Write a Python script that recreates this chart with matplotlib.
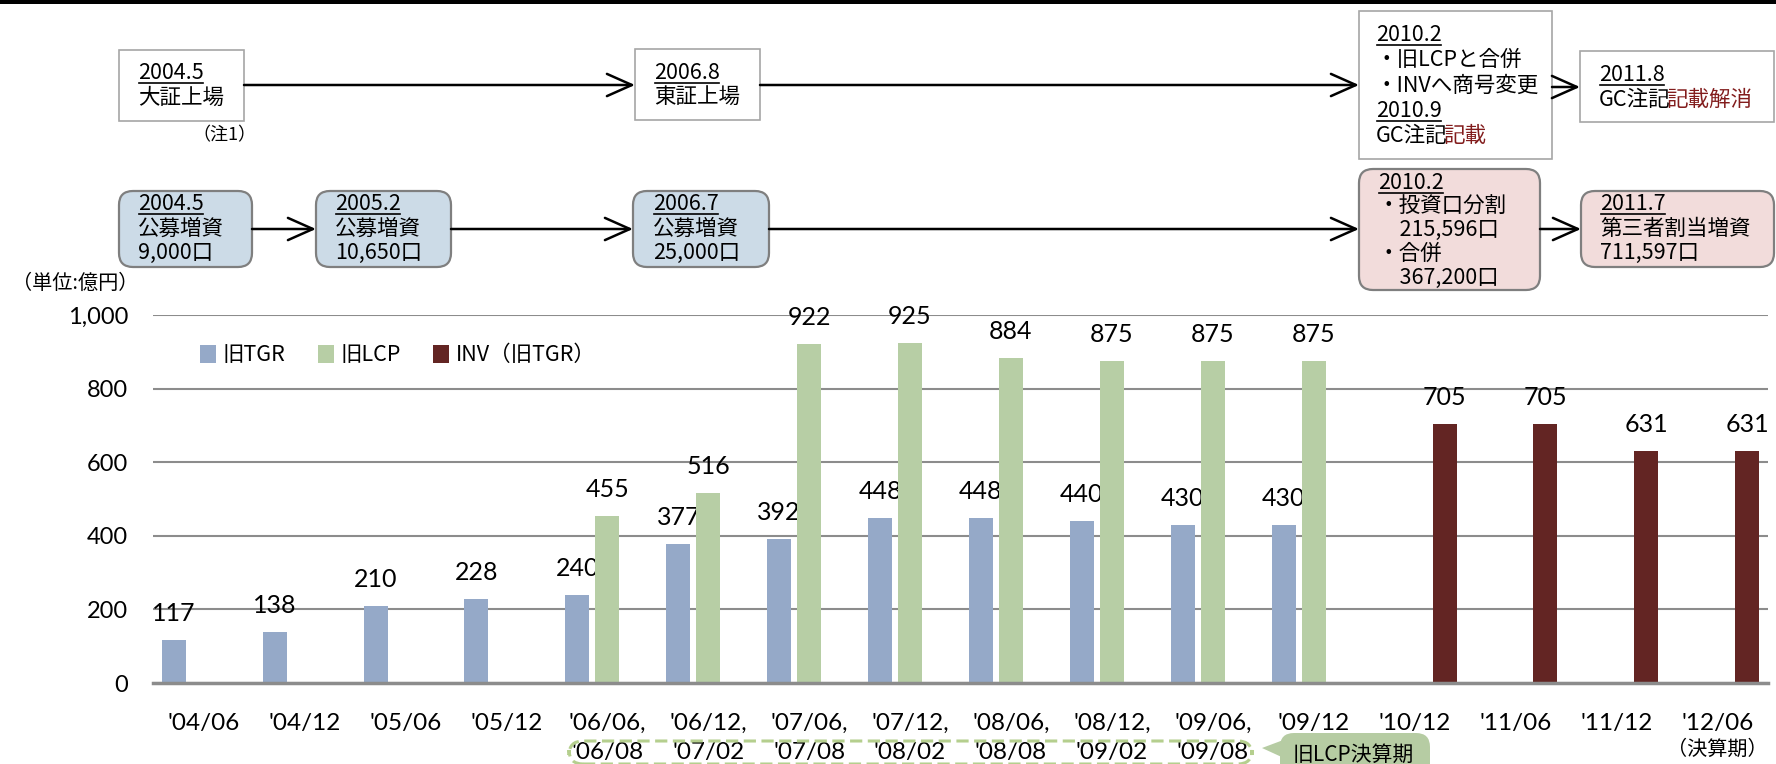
import matplotlib
matplotlib.use("Agg")
import matplotlib.pyplot as plt
import matplotlib.transforms as mtransforms
from matplotlib.patches import FancyBboxPatch, FancyArrowPatch, Polygon, Rectangle
from matplotlib.lines import Line2D
import numpy as np

W, H = 1776, 764
JP = ["Noto Sans CJK JP", "DejaVu Sans"]
NUM = ["Lato", "Noto Sans CJK JP", "DejaVu Sans"]

# data
periods = ["'04/06", "'04/12", "'05/06", "'05/12", "'06/06,", "'06/12,", "'07/06,", "'07/12,",
           "'08/06,", "'08/12,", "'09/06,", "'09/12", "'10/12", "'11/06", "'11/12", "'12/06"]
lcp_periods = ["", "", "", "", "'06/08", "'07/02", "'07/08", "'08/02",
               "'08/08", "'09/02", "'09/08", "", "", "", "", ""]
tgr = [117, 138, 210, 228, 240, 377, 392, 448, 448, 440, 430, 430, None, None, None, None]
lcp = [None, None, None, None, 455, 516, 922, 925, 884, 875, 875, 875, None, None, None, None]
inv = [None] * 12 + [705, 705, 631, 631]
series_names = ["旧TGR", "旧LCP", "INV（旧TGR）"]
series_colors = ["#95a9c8", "#b7cea5", "#632523"]
yticks = [0, 200, 400, 600, 800, 1000]

fig = plt.figure(figsize=(W / 100, H / 100), dpi=100)
T = mtransforms.IdentityTransform()


def ftext(x, y, s, **kw):
    kw.setdefault("fontsize", 15.5)
    kw.setdefault("family", JP)
    kw.setdefault("va", "center")
    return fig.text(x, H - y, s, transform=T, **kw)


def fbox(x0, y0, x1, y1, fc, ec, lw=1.2, rounded=False, **kw):
    style = "round,pad=0,rounding_size=14" if rounded else "square,pad=0"
    p = FancyBboxPatch((x0, H - y1), x1 - x0, y1 - y0, boxstyle=style,
                       transform=T, fc=fc, ec=ec, lw=lw, **kw)
    fig.add_artist(p)
    return p


def farrow(x0, x1, y):
    a = FancyArrowPatch((x0, H - y), (x1, H - y), transform=T,
                        arrowstyle="->,head_length=0.9,head_width=0.4",
                        mutation_scale=20, lw=1.8, color="black",
                        shrinkA=0, shrinkB=0)
    fig.add_artist(a)


# chart
ax = fig.add_axes([153.3 / W, 81 / H, (1767.7 - 153.3) / W, 368 / H])
x = np.arange(len(periods))
offsets = [-0.297, 0.0, 0.297]
handles = []
for vals, off, color, name in zip([tgr, lcp, inv], offsets, series_colors, series_names):
    xs = [xi + off for xi, v in zip(x, vals) if v is not None]
    hs = [v for v in vals if v is not None]
    b = ax.bar(xs, hs, width=0.238, color=color, label=name, zorder=3)
    handles.append(b)
    for xi, v in zip(xs, hs):
        ax.annotate(str(v), (xi, v), xytext=(0, 19), textcoords="offset points",
                    ha="center", va="center", fontsize=18, family=NUM)

ax.set_xlim(-0.5, len(periods) - 0.5)
ax.set_ylim(0, 1000)
ax.set_yticks(yticks)
ax.set_yticklabels([f"{v:,}" for v in yticks], fontsize=17, family=NUM)
ax.set_xticks(x)
ax.set_xticklabels([a + ("\n" + b if b else "") for a, b in zip(periods, lcp_periods)],
                   fontsize=17.5, family=NUM, linespacing=1.5)
# first few labels sit a little left of their slot in the original
for lbl, dx in zip(ax.get_xticklabels()[:4], [-20, -11, -10, -12]):
    lbl.set_transform(lbl.get_transform() + mtransforms.Affine2D().translate(dx, 0))
ax.tick_params(axis="y", length=0, pad=18)
ax.tick_params(axis="x", length=0, pad=21.5)
ax.yaxis.grid(True, color="#8c8c8c", lw=1.5, zorder=0)
ax.set_axisbelow(True)
for s in ["top", "right", "left"]:
    ax.spines[s].set_visible(False)
ax.spines["bottom"].set_color("#8c8c8c")
ax.spines["bottom"].set_linewidth(2.5)
ax.spines["bottom"].set_zorder(4)

ax.legend(handles=handles, ncol=3, loc="center left",
          bbox_to_anchor=(200 / W, 1 - 355 / H), bbox_transform=fig.transFigure,
          frameon=False, handlelength=0.75, handleheight=0.9, handletextpad=0.3,
          columnspacing=1.5, borderpad=0, borderaxespad=0,
          prop={"family": JP, "size": 15.5})

# top rule
fig.add_artist(Rectangle((0, H - 4), W, 4, transform=T, fc="black", ec="none"))

# units
ftext(12, 283, "（単位:億円）", fontsize=14.5)
ftext(1768, 749, "（決算期）", fontsize=14.5, ha="right")

# LCP fiscal period marker
fbox(569, 741, 1252, 764, "none", "#b5cf8e", lw=2.2, rounded=True,
     linestyle=(0, (4, 1.8)))
fig.add_artist(Polygon([(1262, H - 748), (1286, H - 739), (1286, H - 759)],
                       closed=True, transform=T, fc="#b6cca3", ec="none"))
fbox(1280, 733, 1430, 800, "#b6cca3", "none", lw=0, rounded=True)
ftext(1293, 755, "旧LCP決算期", fontsize=15)

# timeline boxes
fbox(119, 50, 244, 121, "white", "#a6a6a6")
fbox(635, 49, 760, 120, "white", "#a6a6a6")
fbox(1359, 11, 1552, 159, "white", "#a6a6a6")
fbox(1580, 51, 1774, 122, "white", "#a6a6a6")
blue, pink = "#ccdbe7", "#f2dcdb"
fbox(119, 191, 252, 267, blue, "#7f7f7f", lw=1.6, rounded=True)
fbox(316, 191, 451, 267, blue, "#7f7f7f", lw=1.6, rounded=True)
fbox(633, 191, 769, 267, blue, "#7f7f7f", lw=1.6, rounded=True)
fbox(1359, 169, 1540, 290, pink, "#7f7f7f", lw=1.6, rounded=True)
fbox(1581, 191, 1774, 267, pink, "#7f7f7f", lw=1.6, rounded=True)

farrow(244, 635, 85)
farrow(760, 1359, 85)
farrow(1552, 1580, 87)
farrow(252, 316, 229)
farrow(451, 633, 229)
farrow(769, 1359, 229)
farrow(1540, 1581, 229)

red = "#821c1c"
dates = []
dates.append(ftext(138, 73, "2004.5"))
ftext(138, 98, "大証上場")
ftext(192, 135, "（注1）", fontsize=13)
dates.append(ftext(654, 73, "2006.8"))
ftext(654, 98, "東証上場")
dates.append(ftext(1376, 35, "2010.2"))
ftext(1376, 60, "・旧LCPと合併")
ftext(1376, 86, "・INVへ商号変更")
dates.append(ftext(1376, 111, "2010.9"))
gc1 = ftext(1376, 136, "GC注記")
dates.append(ftext(1599, 75, "2011.8"))
gc2 = ftext(1599, 100, "GC注記")

dates.append(ftext(138, 204, "2004.5"))
ftext(138, 229, "公募増資")
ftext(138, 253, "9,000口")
dates.append(ftext(335, 204, "2005.2"))
ftext(335, 229, "公募増資")
ftext(335, 253, "10,650口")
dates.append(ftext(653, 204, "2006.7"))
ftext(653, 229, "公募増資")
ftext(653, 253, "25,000口")
dates.append(ftext(1378, 183, "2010.2"))
ftext(1378, 207, "・投資口分割")
ftext(1378, 230, "　215,596口")
ftext(1378, 254, "・合併")
ftext(1378, 278, "　367,200口")
dates.append(ftext(1600, 204, "2011.7"))
ftext(1600, 229, "第三者割当増資")
ftext(1600, 253, "711,597口")

r = fig.canvas.get_renderer()
bb = gc1.get_window_extent(renderer=r)
ftext(bb.x1 - 4, 136, "記載", color=red)
bb = gc2.get_window_extent(renderer=r)
ftext(bb.x1 - 4, 100, "記載解消", color=red)
for t in dates:
    bb = t.get_window_extent(renderer=r)
    yc = (bb.y0 + bb.y1) / 2 - 10
    fig.add_artist(Line2D([bb.x0 + 1, bb.x1 - 1], [yc, yc], transform=T, color="black", lw=1.2))

fig.savefig("out.png", dpi=100)
